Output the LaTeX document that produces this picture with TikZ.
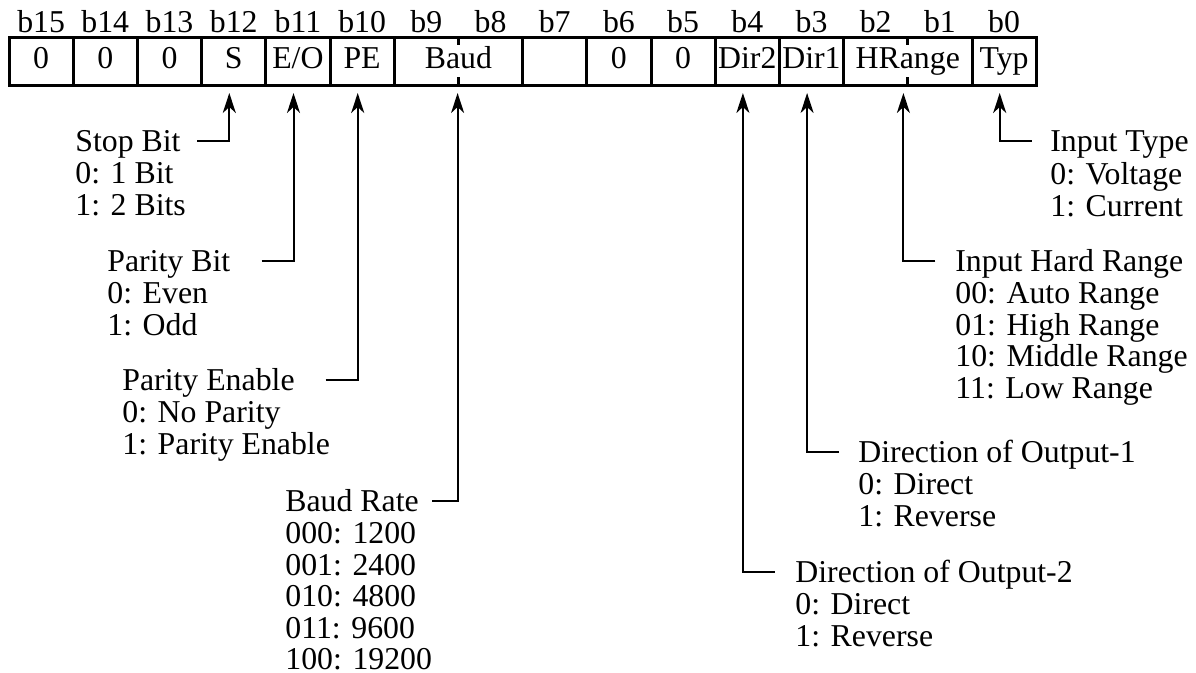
\documentclass[tikz,border=0pt]{standalone}
\usepackage{fontspec}
\setmainfont{Liberation Serif}
\usetikzlibrary{arrows.meta, positioning}

\begin{document}
\begin{tikzpicture}[
    x=0.5pt, y=0.5pt,
    font=\fontsize{15.9}{15.75}\selectfont,
    node distance=0pt,
    cell/.style={rectangle, draw, line width=1.5pt, minimum width=32.1pt, minimum height=24pt, inner sep=0pt, outer sep=0pt, text height=0.7em, text depth=0pt},
    wide_cell/.style={cell, minimum width=64.2pt},
    bit_label/.style={inner sep=1pt},
    head_text/.style={inner sep=0pt, text height=15.5pt, text depth=4.9pt, anchor=base west},
    body_text/.style={inner sep=0pt, align=left, anchor=north west},
    arrow/.style={-{Stealth[length=10pt, width=6.5pt, inset=3pt]}, line width=1pt, shorten >=3.5pt},
    tick_mark/.style={line width=1.5pt}
]
\useasboundingbox (0,0) rectangle (1196,-673);

% register cells
\node[cell] (c15) at (41.1,-62) {0};
\node[cell, right=of c15] (c14) {0};
\node[cell, right=of c14] (c13) {0};
\node[cell, right=of c13] (c12) {S};
\node[cell, right=of c12] (c11) {E/O};
\node[cell, right=of c11] (c10) {PE};
\node[wide_cell, right=of c10] (baud) {Baud};
\node[cell, right=of baud] (c7) {};
\node[cell, right=of c7] (c6) {0};
\node[cell, right=of c6] (c5) {0};
\node[cell, right=of c5] (c4) {Dir2};
\node[cell, right=of c4] (c3) {Dir1};
\node[wide_cell, right=of c3] (hrange) {HRange};
\node[cell, right=of hrange] (c0) {Typ};

\draw[tick_mark] (baud.north) -- ++(0,-7);
\draw[tick_mark] (baud.south) -- ++(0,9);
\draw[tick_mark] (hrange.north) -- ++(0,-7);
\draw[tick_mark] (hrange.south) -- ++(0,9);

% bit numbers
\node[bit_label, above=1.5pt of c15] (l15) {b15};
\node[bit_label, above=1.5pt of c14] (l14) {b14};
\node[bit_label, above=1.5pt of c13] (l13) {b13};
\node[bit_label, above=1.5pt of c12] (l12) {b12};
\node[bit_label, above=1.5pt of c11] (l11) {b11};
\node[bit_label, above=1.5pt of c10] (l10) {b10};
\node[bit_label, above=1.5pt of baud, xshift=-16.05pt] (l9) {b9};
\node[bit_label, above=1.5pt of baud, xshift=16.05pt] (l8) {b8};
\node[bit_label, above=1.5pt of c7] (l7) {b7};
\node[bit_label, above=1.5pt of c6] (l6) {b6};
\node[bit_label, above=1.5pt of c5] (l5) {b5};
\node[bit_label, above=1.5pt of c4] (l4) {b4};
\node[bit_label, above=1.5pt of c3] (l3) {b3};
\node[bit_label, above=1.5pt of hrange, xshift=-16.05pt] (l2) {b2};
\node[bit_label, above=1.5pt of hrange, xshift=16.05pt] (l1) {b1};
\node[bit_label, above=1.5pt of c0] (l0) {b0};

% field descriptions
\node[head_text] (stop_head) at (75,-152) {Stop Bit};
\node[below=0pt of stop_head.south west, body_text] (stop_body) {0: 1 Bit\\1: 2 Bits};

\node[head_text] (parity_head) at (107,-272) {Parity Bit};
\node[below=0pt of parity_head.south west, body_text] (parity_body) {0: Even\\1: Odd};

\node[head_text] (pe_head) at (122,-391) {Parity Enable};
\node[below=0pt of pe_head.south west, body_text] (pe_body) {0: No Parity\\1: Parity Enable};

\node[head_text] (baud_head) at (285,-512) {Baud Rate};
\node[below=0pt of baud_head.south west, body_text] (baud_body) {000: 1200\\001: 2400\\010: 4800\\011: 9600\\100: 19200};

\node[head_text] (type_head) at (1050,-152) {Input Type};
\node[below=0pt of type_head.south west, body_text] (type_body) {0: Voltage\\1: Current};

\node[head_text] (range_head) at (955,-272) {Input Hard Range};
\node[below=0pt of range_head.south west, body_text] (range_body) {00: Auto Range\\01: High Range\\10: Middle Range\\11: Low Range};

\node[head_text] (dir1_head) at (858,-463) {Direction of Output-1};
\node[below=0pt of dir1_head.south west, body_text] (dir1_body) {0: Direct\\1: Reverse};

\node[head_text] (dir2_head) at (795,-583) {Direction of Output-2};
\node[below=0pt of dir2_head.south west, body_text] (dir2_body) {0: Direct\\1: Reverse};

% pointers to the bits
\draw[arrow] ([xshift=-18.2pt]c12.south |- stop_head.east) -| ([xshift=-2.2pt]c12.south);
\draw[arrow] ([xshift=-18.2pt]c11.south |- parity_head.east) -| ([xshift=-2.2pt]c11.south);
\draw[arrow] ([xshift=-18.2pt]c10.south |- pe_head.east) -| ([xshift=-2.2pt]c10.south);
\draw[arrow] ([xshift=-13pt]baud.south |- baud_head.east) -| ([xshift=-0.4pt]baud.south);
\draw[arrow] ([xshift=13.8pt]c0.south |- type_head.west) -| ([xshift=-2.2pt]c0.south);
\draw[arrow] ([xshift=13.8pt]hrange.south |- range_head.west) -| ([xshift=-2.2pt]hrange.south);
\draw[arrow] ([xshift=13.8pt]c3.south |- dir1_head.west) -| ([xshift=-2.2pt]c3.south);
\draw[arrow] ([xshift=13.8pt]c4.south |- dir2_head.west) -| ([xshift=-2.2pt]c4.south);
\end{tikzpicture}
\end{document}
